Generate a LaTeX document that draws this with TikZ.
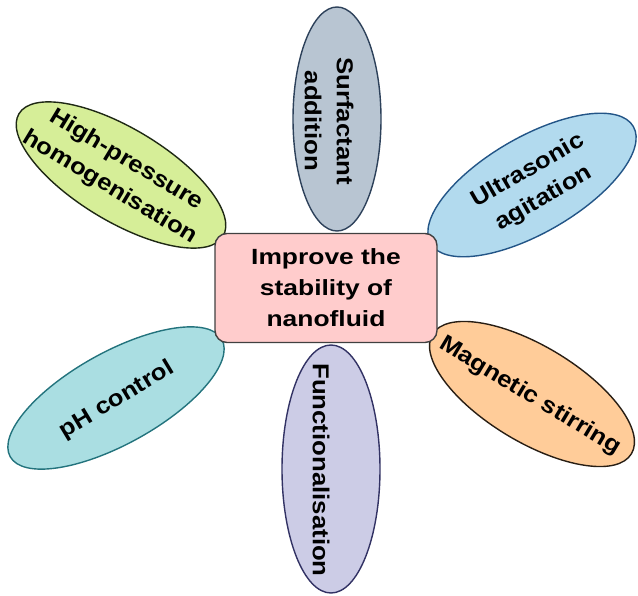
\documentclass[tikz,border=0pt]{standalone}
\usepackage{fontspec}
\setmainfont{Liberation Sans}
\newfontfamily\ellfont{Liberation Sans}[FakeStretch=1.12]
\newfontfamily\ctrfont{Liberation Sans}[FakeStretch=1.2]
\usetikzlibrary{shapes.geometric}
\definecolor{hpfill}{RGB}{214,238,152}
\definecolor{hpdraw}{RGB}{30,40,20}
\definecolor{sffill}{RGB}{184,197,210}
\definecolor{sfdraw}{RGB}{45,65,90}
\definecolor{usfill}{RGB}{178,218,238}
\definecolor{usdraw}{RGB}{35,85,135}
\definecolor{ctfill}{RGB}{255,204,204}
\definecolor{ctdraw}{RGB}{64,64,64}
\definecolor{phfill}{RGB}{170,222,226}
\definecolor{phdraw}{RGB}{35,115,125}
\definecolor{fnfill}{RGB}{204,204,230}
\definecolor{fndraw}{RGB}{50,50,100}
\definecolor{mgfill}{RGB}{255,204,153}
\definecolor{mgdraw}{RGB}{40,30,20}
\begin{document}
\begin{tikzpicture}[x=1pt,y=-1pt,
  ell/.style={ellipse, line width=1.4pt, inner sep=0pt},
  etxt/.style={font=\ellfont\bfseries\fontsize{23}{32}\selectfont, align=center, inner sep=0pt},
  ctxt/.style={font=\ctrfont\bfseries\fontsize{22}{31}\selectfont, align=center, inner sep=0pt},
  centerbox/.style={rectangle, rounded corners=12pt, line width=1.4pt, draw=ctdraw, fill=ctfill,
    minimum width=222pt, minimum height=109pt, inner sep=0pt}
]
\useasboundingbox (0,0) rectangle (638,596);

% ellipses
\node[ell, draw=hpdraw, fill=hpfill, minimum width=238pt, minimum height=93pt, rotate=-31] (hp) at (121,175) {};
\node[ell, draw=sfdraw, fill=sffill, minimum width=88pt, minimum height=224pt] (sf) at (337,119) {};
\node[ell, draw=usdraw, fill=usfill, minimum width=234pt, minimum height=96pt, rotate=30] (us) at (532,185) {};
\node[ell, draw=phdraw, fill=phfill, minimum width=242pt, minimum height=92pt, rotate=29] (ph) at (116,398) {};
\node[ell, draw=fndraw, fill=fnfill, minimum width=98pt, minimum height=248pt] (fn) at (331,469) {};
\node[ell, draw=mgdraw, fill=mgfill, minimum width=232pt, minimum height=96pt, rotate=-31] (mg) at (532,394) {};

% centre
\node[centerbox] (ct) at (326,288) {};
\node[ctxt] (ctT) at (ct.center) {Improve the\\stability of\\nanofluid};

% texts
\node[etxt, rotate=-31] (hpT) at (118,174) {High-pressure\\homogenisation};
\node[etxt, rotate=-90] (sfT) at (329,121) {Surfactant\\addition};
\node[etxt, rotate=30] (usT) at (536,185) {Ultrasonic\\agitation};
\node[etxt, rotate=31] (phT) at (117,400) {pH control};
\node[etxt, rotate=-90] (fnT) at (321,470) {Functionalisation};
\node[etxt, rotate=-31] (mgT) at (530,396) {Magnetic stirring};
\end{tikzpicture}
\end{document}
